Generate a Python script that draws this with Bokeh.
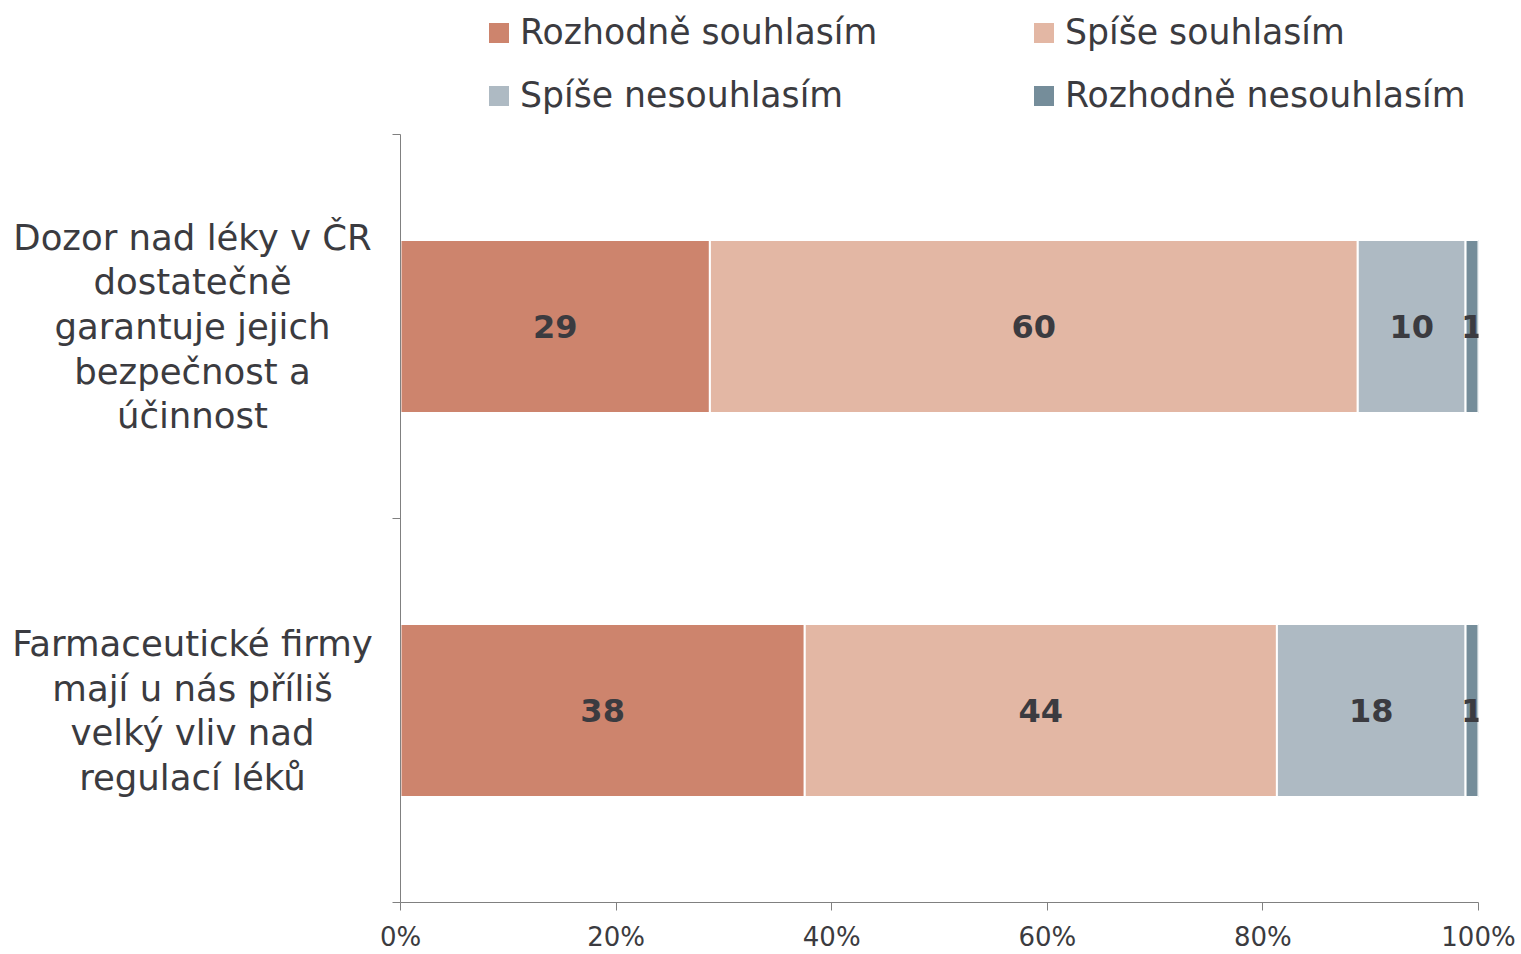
from bokeh.plotting import figure
from bokeh.models import (ColumnDataSource, Range1d, FixedTicker, Legend, LegendItem)
from bokeh.layouts import row, column
from bokeh.core.properties import value
from bokeh.embed import file_html
from bokeh.resources import INLINE

# ---- data ----
categories = [
    "Dozor nad léky v ČR\ndostatečně\ngarantuje jejich\nbezpečnost a\núčinnost",
    "Farmaceutické firmy\nmají u nás příliš\nvelký vliv nad\nregulací léků",
]
series_names = ["Rozhodně souhlasím", "Spíše souhlasím", "Spíše nesouhlasím", "Rozhodně nesouhlasím"]
rozhodne_souhlasim = [28.7, 37.5]
spise_souhlasim = [60.1, 43.8]
spise_nesouhlasim = [10.0, 17.5]
rozhodne_nesouhlasim = [1.2, 1.2]
colors = ["#CD846D", "#E3B7A4", "#AEBAC3", "#758D9A"]
x_ticks = [0, 20, 40, 60, 80, 100]
x_tick_labels = ["0%", "20%", "40%", "60%", "80%", "100%"]

FONT = "DejaVu Sans"
TXT = "#3b3b40"
AX = "#808080"
cat_pos = [1.5, 0.5]  # top to bottom

LEG_H = 130
TOP, BOTTOM = 4, 52
FRAME_H = 768
H = TOP + FRAME_H + BOTTOM
LW = 372
BL = 28
FW = 1078
RW = BL + FW + 40

# ---- legend strip ----
lg = figure(width=LW + RW, height=LEG_H, output_backend="svg", toolbar_location=None,
            x_range=Range1d(0, 1), y_range=Range1d(0, 1),
            min_border_left=0, min_border_right=0, min_border_top=0, min_border_bottom=0)
lg.axis.visible = False
lg.grid.visible = False
lg.outline_line_color = None

# ---- left figure with category labels ----
left = figure(width=LW, height=H, output_backend="svg", toolbar_location=None,
              x_range=Range1d(0, LW), y_range=Range1d(0, 2),
              min_border_left=0, min_border_right=0,
              min_border_top=TOP, min_border_bottom=BOTTOM)
left.axis.visible = False
left.grid.visible = False
left.outline_line_color = None
left.text(x=[192, 192], y=cat_pos, text=categories, text_align="center",
          text_baseline="middle", text_font=value(FONT), text_font_size="35.5px",
          text_line_height=1.09, text_color=TXT)

# ---- right figure with bars ----
p = figure(width=RW, height=H, output_backend="svg", toolbar_location=None,
           x_range=Range1d(0, 100), y_range=Range1d(0, 2),
           min_border_left=BL, min_border_right=40,
           min_border_top=TOP, min_border_bottom=BOTTOM)
p.grid.visible = False
p.outline_line_color = None

series = [rozhodne_souhlasim, spise_souhlasim, spise_nesouhlasim, rozhodne_nesouhlasim]
lefts = [0.0, 0.0]
items = []
lx, ly, lt = [], [], []
for name, vals, col in zip(series_names, series, colors):
    rights = [l + v for l, v in zip(lefts, vals)]
    src = ColumnDataSource(dict(y=cat_pos, left=lefts, right=rights))
    p.hbar(y="y", left="left", right="right", height=0.45, source=src,
           fill_color=col, line_color="white", line_width=2)
    # legend proxy in legend strip (placed outside its visible range)
    lr = lg.hbar(y=[-10], left=[0], right=[1], height=0.5, fill_color=col, line_color=None)
    items.append(LegendItem(label=name, renderers=[lr]))
    for l, rr, v, yy in zip(lefts, rights, vals, cat_pos):
        lx.append((l + rr) / 2)
        ly.append(yy)
        lt.append(str(int(v + 0.5)))
    lefts = rights

p.text(x=lx, y=ly, text=lt, text_align="center", text_baseline="middle",
       text_font=value(FONT), text_font_size="32px", text_font_style="bold",
       text_color=TXT)

xa = p.xaxis[0]
xa.ticker = FixedTicker(ticks=x_ticks)
xa.major_label_overrides = {t: s for t, s in zip(x_ticks, x_tick_labels)}
xa.major_tick_out = 8
xa.major_tick_in = 0
xa.minor_tick_out = 0
xa.minor_tick_in = 0
xa.axis_line_color = AX
xa.major_tick_line_color = AX
xa.major_label_text_font = FONT
xa.major_label_text_font_size = "26px"
xa.major_label_text_color = TXT
xa.major_label_standoff = 11

ya = p.yaxis[0]
ya.ticker = FixedTicker(ticks=[0, 1, 2])
ya.major_label_overrides = {0: "", 1: "", 2: ""}
ya.major_label_text_font_size = "0px"
ya.major_tick_out = 8
ya.major_tick_in = 0
ya.minor_tick_out = 0
ya.minor_tick_in = 0
ya.axis_line_color = AX
ya.major_tick_line_color = AX
ya.major_label_standoff = 0

legend = Legend(items=items, orientation="horizontal", ncols=2,
                location=(486, 15), margin=0, padding=0,
                glyph_width=25, glyph_height=25, label_standoff=9,
                label_width=488, label_height=40, spacing=23,
                label_text_font=FONT, label_text_font_size="34.7px",
                label_text_color=TXT, border_line_color=None,
                background_fill_alpha=0)
lg.add_layout(legend)

layout = column(lg, row(left, p, spacing=0), spacing=0)
open("out.html", "w").write(file_html(layout, INLINE))
